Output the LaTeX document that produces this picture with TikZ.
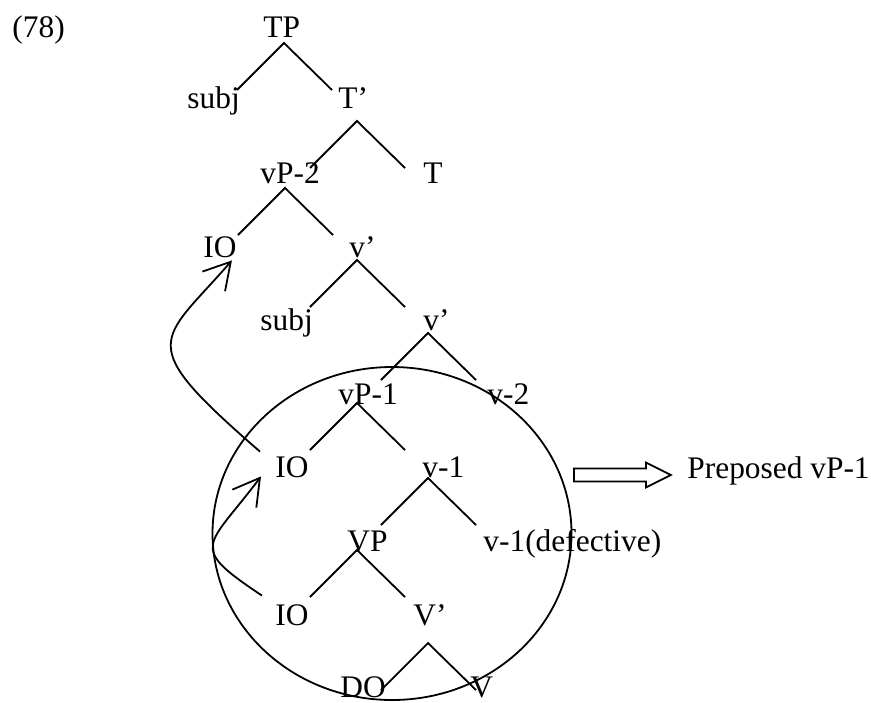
\documentclass[tikz,border=0pt]{standalone}
\usepackage{fontspec}
\setmainfont{Liberation Serif}
\usetikzlibrary{arrows.meta,shapes.geometric}
\tikzset{
  >={Straight Barb[length=13pt,width=15pt]},
  lbl/.style={anchor=base west,inner sep=0pt,text height=10.5pt,text depth=3.5pt},
  branch/.style={line width=0.9pt},
  mv/.style={->,line width=0.9pt},
  ring/.style={draw,ellipse,line width=0.9pt,minimum width=179.5pt,
    minimum height=166.5pt,inner sep=0pt},
  fatarrow/.style={draw,line width=0.9pt,fill=white},
}
\begin{document}
\begin{tikzpicture}[x=0.5pt,y=-0.5pt,font=\fontsize{15.7}{18}\selectfont]
\useasboundingbox (0,0) rectangle (871,702);

% ---------- labels ----------
\node[lbl] (ex) at (12,37) {(78)};
\node[lbl] (TP) at (263,37) {TP};
\node[lbl] (subjA) at (187,108) {subj};
\node[lbl] (Tbar) at (338,108) {T’};
\node[lbl] (vPtwo) at (260,183) {vP-2};
\node[lbl] (T) at (423,183) {T};
\node[lbl] (IOa) at (203,257) {IO};
\node[lbl] (vbarA) at (349,257) {v’};
\node[lbl] (subjB) at (260,330) {subj};
\node[lbl] (vbarB) at (423,330) {v’};
\node[lbl] (vPone) at (338,404) {vP-1};
\node[lbl] (vtwo) at (487,404) {v-2};
\node[lbl] (IOb) at (275,477) {IO};
\node[lbl] (vone) at (422,477) {v-1};
\node[lbl] (VP) at (347,551) {VP};
\node[lbl] (vdef) at (483,551) {v-1(defective)};
\node[lbl] (IOc) at (275,625) {IO};
\node[lbl] (Vbar) at (413,625) {V’};
\node[lbl] (DO) at (340,697) {DO};
\node[lbl] (V) at (470,697) {V};
\node[lbl] (prepLab) at (687,478) {Preposed vP-1};

% ---------- branches ----------
\coordinate (cTP) at (284,43);
\coordinate (cTbar) at (357,121);
\coordinate (cvPtwo) at (285,188);
\coordinate (cvbarA) at (357,260);
\coordinate (cvbarB) at (428,333);
\coordinate (cvPone) at (357,403);
\coordinate (cvone) at (428,478);
\coordinate (cVP) at (357,550);
\coordinate (cVbar) at (428,643);
\draw[branch] (cTP) ++(-47,47) -- (cTP) -- ++(48,47);
\draw[branch] (cTbar) ++(-47,47) -- (cTbar) -- ++(48,47);
\draw[branch] (cvPtwo) ++(-47,47) -- (cvPtwo) -- ++(48,47);
\draw[branch] (cvbarA) ++(-47,47) -- (cvbarA) -- ++(48,47);
\draw[branch] (cvbarB) ++(-47,47) -- (cvbarB) -- ++(48,47);
\draw[branch] (cvPone) ++(-47,47) -- (cvPone) -- ++(48,47);
\draw[branch] (cvone) ++(-47,47) -- (cvone) -- ++(48,47);
\draw[branch] (cVP) ++(-47,47) -- (cVP) -- ++(48,47);
\draw[branch] (cVbar) ++(-47,47) -- (cVbar) -- ++(48,47);

% ---------- preposed vP-1 ----------
\node[ring] (prep) at (392,533.5) {};
\draw[fatarrow] ([shift={(1.5,-65)}]prep.east) -- ++(72,0) -- ++(0,-6)
  -- ++(25,12.5) -- ++(-25,12.5) -- ++(0,-6) -- ++(-72,0) -- cycle;

% ---------- movement ----------
\draw[mv] ([shift={(-15,-4)}]IOb.north west) .. controls +(-128,-111) and +(-72,83) .. ([shift={(-5,-4)}]IOa.south east);
\draw[mv] ([shift={(-13,-8)}]IOc.north west) .. controls +(-75,-50) and +(-54,72) .. ([shift={(-14,-8)}]IOb.south west);

\end{tikzpicture}
\end{document}
